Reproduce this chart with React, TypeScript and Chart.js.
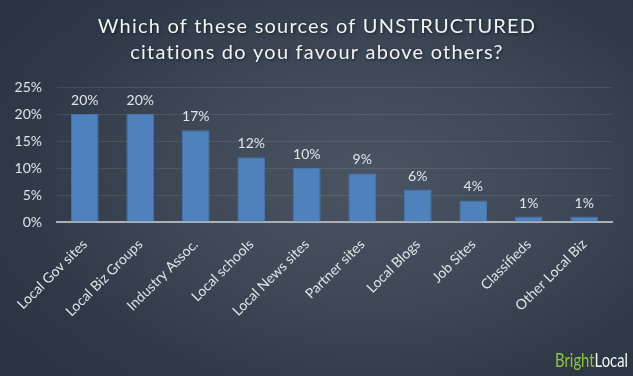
import React, { useEffect, useRef } from "react";
import { Chart, registerables } from "chart.js";

Chart.register(...registerables);

const TITLE_LINES = ["Which of these sources of UNSTRUCTURED", "citations do you favour above others?"];
const CATEGORIES = [
  "Local Gov sites",
  "Local Biz Groups",
  "Industry Assoc.",
  "Local schools",
  "Local News sites",
  "Partner sites",
  "Local Blogs",
  "Job Sites",
  "Classifieds",
  "Other Local Biz",
];
const VALUES = [20, 20, 17, 12, 10, 9, 6, 4, 1, 1];
const Y_MAX = 25;
const Y_STEP = 5;
const LOGO_A = "Bright";
const LOGO_B = "Local";

const FONT = "Lato, 'Open Sans', sans-serif";
const TEXT = "#e2e5e8";

const W = 633;
const H = 376;

const overlayPlugin = {
  id: "overlay",
  afterDraw(chart: any) {
    const ctx = chart.ctx as CanvasRenderingContext2D;
    ctx.save();
    // title
    ctx.fillStyle = "#f2f3f4";
    ctx.font = `20px ${FONT}`;
    (ctx as any).letterSpacing = "1.2px";
    ctx.textAlign = "center";
    ctx.textBaseline = "middle";
    ctx.shadowColor = "rgba(0,0,0,0.5)";
    ctx.shadowBlur = 3;
    ctx.shadowOffsetX = 1;
    ctx.shadowOffsetY = 1;
    TITLE_LINES.forEach((t, i) => ctx.fillText(t, 317, 27 + i * 26));
    ctx.shadowColor = "transparent";
    (ctx as any).letterSpacing = "0px";

    // data labels
    const meta = chart.getDatasetMeta(0);
    ctx.font = `14px ${FONT}`;
    ctx.fillStyle = TEXT;
    ctx.textBaseline = "alphabetic";
    meta.data.forEach((bar: any, i: number) => {
      ctx.fillText(`${VALUES[i]}%`, bar.x, bar.y - 9);
    });

    // logo
    ctx.font = `19px ${FONT}`;
    ctx.textAlign = "left";
    const wa = ctx.measureText(LOGO_A).width;
    const wb = ctx.measureText(LOGO_B).width;
    const target = 73;
    const sx = target / (wa + wb);
    ctx.translate(555, 367);
    ctx.scale(sx, 1);
    ctx.fillStyle = "#8dc63f";
    ctx.fillText(LOGO_A, 0, 0);
    ctx.fillStyle = "#f4f4f4";
    ctx.fillText(LOGO_B, wa, 0);
    ctx.restore();
  },
};

export default function App() {
  const ref = useRef<HTMLCanvasElement | null>(null);
  useEffect(() => {
    document.body.style.margin = "0";
    const chart = new Chart(ref.current!, {
      type: "bar",
      data: {
        labels: CATEGORIES,
        datasets: [
          {
            data: VALUES,
            backgroundColor: "#4f81bd",
            borderColor: "#4676b0",
            borderWidth: 1,
            categoryPercentage: 1,
            barPercentage: 0.5,
          },
        ],
      },
      options: {
        animation: false,
        responsive: false,
        maintainAspectRatio: false,
        layout: { padding: { top: 87, right: 21, left: 0, bottom: 0 } },
        plugins: { legend: { display: false }, tooltip: { enabled: false }, title: { display: false } },
        scales: {
          x: {
            grid: { display: false, drawTicks: false },
            border: { display: true, color: "#a9b0b8", width: 2 },
            ticks: {
              color: TEXT,
              font: { family: FONT, size: 14 },
              minRotation: 45,
              maxRotation: 45,
              padding: 14,
              autoSkip: false,
            },
            afterFit(scale: any) {
              scale.height = 154;
            },
          },
          y: {
            min: 0,
            max: Y_MAX,
            grid: {
              color: (c: any) => (c.tick && c.tick.value === 0 ? "rgba(0,0,0,0)" : "rgba(255,255,255,0.09)"),
              drawTicks: false,
              lineWidth: 1,
            },
            border: { display: false },
            ticks: {
              stepSize: Y_STEP,
              color: TEXT,
              font: { family: FONT, size: 14 },
              padding: 15,
              callback: (v: any) => `${v}%`,
            },
            afterFit(scale: any) {
              scale.width = 57;
            },
          },
        },
      },
      plugins: [overlayPlugin],
    });
    return () => chart.destroy();
  }, []);
  return (
    <div
      style={{
        width: W,
        height: H,
        background:
          "radial-gradient(ellipse 70% 75% at 58% 48%, #4a5462 0%, #3d4756 45%, #2e3847 80%, #2a3443 100%)",
      }}
    >
      <canvas ref={ref} width={W} height={H} style={{ display: "block" }} />
    </div>
  );
}
